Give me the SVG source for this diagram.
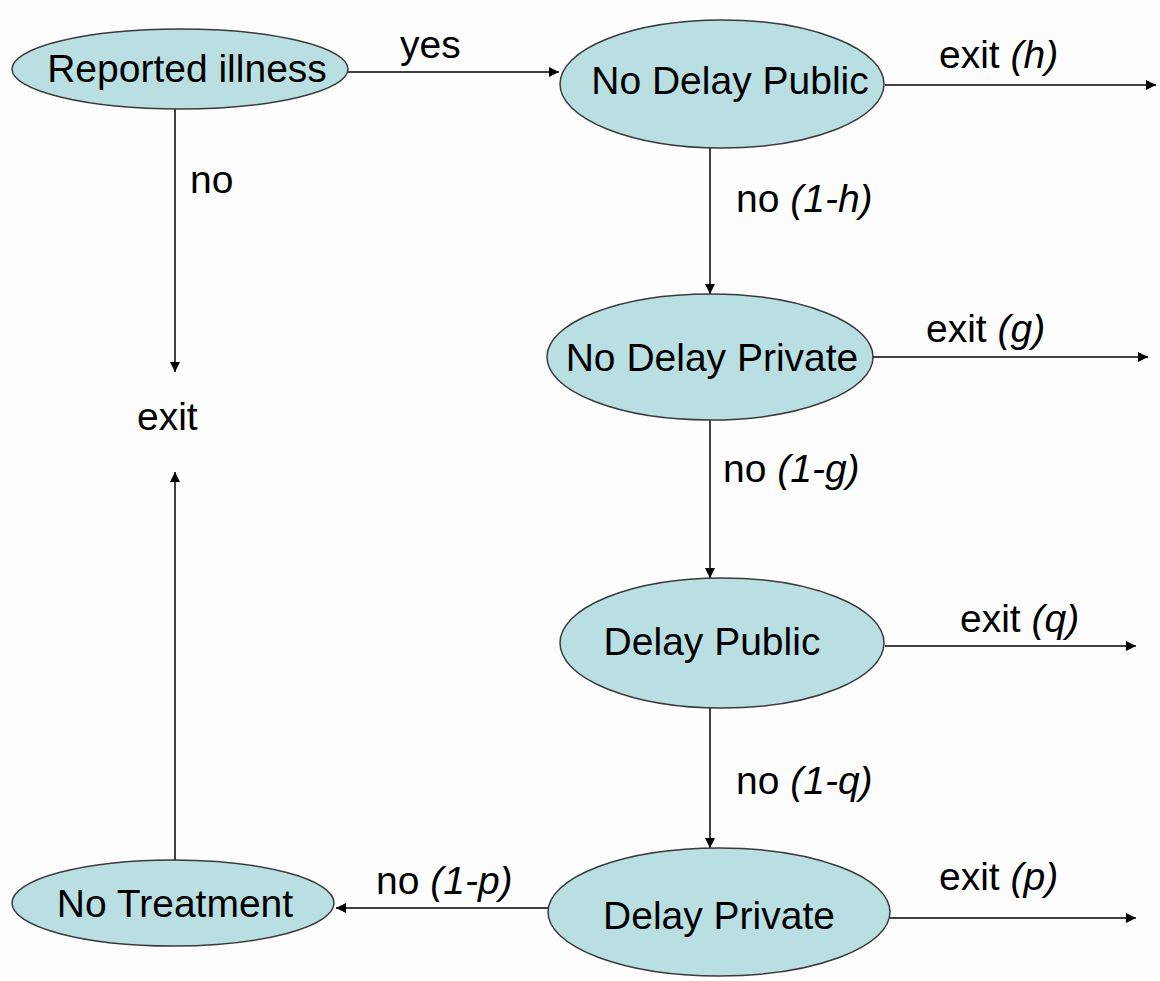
<svg xmlns="http://www.w3.org/2000/svg" width="1160" height="981" viewBox="0 0 1160 981">
<style>
.node ellipse{fill:#b9dfe2;stroke:#3a3a3a;stroke-width:1.5}
text{font-family:"Liberation Sans",Arial,sans-serif;font-size:39px;fill:#000}
.nt{text-anchor:middle}
.edge line{stroke:#000;stroke-width:1.5;marker-end:url(#ah)}
</style>
<defs>
<marker id="ah" viewBox="0 0 10 10" refX="10" refY="5" markerWidth="12" markerHeight="10" markerUnits="userSpaceOnUse" orient="auto">
<path d="M0,0 L10,5 L0,10 z" fill="#000"/>
</marker>
</defs>
<rect width="1160" height="981" fill="#fdfdfd"/>
<g id="connectors" class="edge">
<line x1="348" y1="72" x2="559" y2="72"/>
<line x1="175" y1="109" x2="175" y2="372"/>
<line x1="885" y1="85" x2="1156" y2="85"/>
<line x1="710" y1="148" x2="710" y2="294"/>
<line x1="872" y1="357" x2="1148" y2="357"/>
<line x1="710" y1="420" x2="710" y2="578"/>
<line x1="885" y1="646" x2="1136" y2="646"/>
<line x1="710" y1="708" x2="710" y2="848"/>
<line x1="890" y1="918" x2="1136" y2="918"/>
<line x1="548" y1="908" x2="336" y2="908"/>
<line x1="175" y1="860" x2="175" y2="472"/>
</g>
<g id="labels">
<text x="400" y="58">yes</text>
<text x="190" y="193">no</text>
<text x="137" y="430">exit</text>
<text x="939" y="68">exit <tspan font-style="italic">(h)</tspan></text>
<text x="736" y="212">no <tspan font-style="italic">(1-h)</tspan></text>
<text x="926" y="342">exit <tspan font-style="italic">(g)</tspan></text>
<text x="723" y="482">no <tspan font-style="italic">(1-g)</tspan></text>
<text x="960" y="632">exit <tspan font-style="italic">(q)</tspan></text>
<text x="736" y="794">no <tspan font-style="italic">(1-q)</tspan></text>
<text x="939" y="890">exit <tspan font-style="italic">(p)</tspan></text>
<text x="376" y="894">no <tspan font-style="italic">(1-p)</tspan></text>
</g>
<g id="reported-illness" class="node">
<ellipse cx="180" cy="69" rx="168" ry="40"/>
<text class="nt" x="187" y="82">Reported illness</text>
</g>
<g id="no-delay-public" class="node">
<ellipse cx="722" cy="84" rx="162" ry="64"/>
<text class="nt" x="730" y="94">No Delay Public</text>
</g>
<g id="no-delay-private" class="node">
<ellipse cx="710" cy="357" rx="163" ry="63"/>
<text class="nt" x="712" y="371">No Delay Private</text>
</g>
<g id="delay-public" class="node">
<ellipse cx="722" cy="643" rx="162" ry="65"/>
<text class="nt" x="712" y="655">Delay Public</text>
</g>
<g id="delay-private" class="node">
<ellipse cx="719" cy="912" rx="171" ry="64"/>
<text class="nt" x="719" y="929">Delay Private</text>
</g>
<g id="no-treatment" class="node">
<ellipse cx="173" cy="903" rx="161" ry="43"/>
<text class="nt" x="175" y="917">No Treatment</text>
</g>
</svg>
